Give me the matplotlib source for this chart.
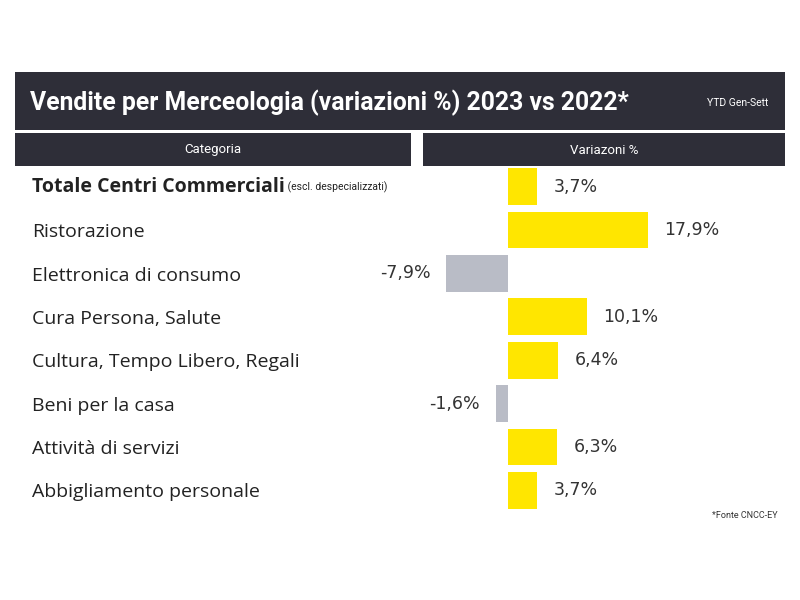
import matplotlib.pyplot as plt
from matplotlib.patches import Rectangle
import matplotlib.transforms as mtransforms

plt.rcParams['font.family'] = ['Roboto', 'DejaVu Sans']

categories = ['Totale Centri Commerciali', 'Ristorazione', 'Elettronica di consumo',
              'Cura Persona, Salute', 'Cultura, Tempo Libero, Regali',
              'Beni per la casa', 'Attività di servizi', 'Abbigliamento personale']
values = [3.7, 17.9, -7.9, 10.1, 6.4, -1.6, 6.3, 3.7]
value_labels = ['3,7%', '17,9%', '-7,9%', '10,1%', '6,4%', '-1,6%', '6,3%', '3,7%']

dark = '#2e2e38'
yellow = '#ffe600'
grey = '#b9bcc6'

W, H = 800, 600
fig = plt.figure(figsize=(8, 6), dpi=100)
fig.patch.set_facecolor('white')

def px_rect(x0, y0, x1, y1):
    # pixel box (top-left origin) -> figure fraction rectangle
    return Rectangle((x0 / W, 1 - y1 / H), (x1 - x0) / W, (y1 - y0) / H,
                     transform=fig.transFigure, facecolor=dark, edgecolor='none')

fig.patches.append(px_rect(15, 72, 785, 130))
fig.patches.append(px_rect(15, 133, 411, 166))
fig.patches.append(px_rect(423, 133, 785, 166))

fig.text(30 / W, 1 - 103 / H, 'Vendite per Merceologia (variazioni %) 2023 vs 2022*',
         color='white', fontsize=17.8, fontweight='bold', va='center', ha='left')
fig.text(768 / W, 1 - 103 / H, 'YTD Gen-Sett', color='white', fontsize=7.5,
         va='center', ha='right')
fig.text(213 / W, 1 - 150 / H, 'Categoria', color='white', fontsize=9.5,
         va='center', ha='center')
fig.text(604 / W, 1 - 150 / H, 'Variazoni %', color='white', fontsize=9.5,
         va='center', ha='center')
fig.text(778 / W, 1 - 516 / H, '*Fonte CNCC-EY', color='#333333', fontsize=6.5,
         va='center', ha='right')

# bar axes: zero at x=508px, about 7.8 px per percent point
scale = 7.8
ax = fig.add_axes([423 / W, 1 - 512 / H, 362 / W, (512 - 165) / H])
ax.set_xlim(-(508 - 423) / scale, (785 - 508) / scale)
ax.set_ylim(len(values) - 0.5, -0.5)
ax.axis('off')

ypos = list(range(len(values)))
colors = [yellow if v > 0 else grey for v in values]
ax.barh(ypos, values, height=0.85, color=colors)

for y, v, lab in zip(ypos, values, value_labels):
    if v > 0:
        ax.annotate(lab, (v, y), xytext=(12, 0), textcoords='offset points',
                    ha='left', va='center', fontsize=12.5, color='#333333',
                    family='DejaVu Sans')
    else:
        ax.annotate(lab, (v, y), xytext=(-11, 0), textcoords='offset points',
                    ha='right', va='center', fontsize=12.5, color='#333333',
                    family='DejaVu Sans')

trans = mtransforms.blended_transform_factory(fig.transFigure, ax.transData)
for y, cat in zip(ypos, categories):
    if y == 0:
        t = ax.text(32 / W, y, cat, transform=trans, fontsize=14, fontweight='bold',
                    color='#222222', va='center', ha='left', family='Open Sans')
        ax.annotate(' (escl. despecializzati)', xycoords=t, xy=(1, 0.45),
                    va='center', ha='left', fontsize=7.5, color='#222222')
    else:
        ax.text(32 / W, y + 0.05, cat, transform=trans, fontsize=14,
                color='#222222', va='center', ha='left', family='Open Sans')

fig.savefig('out.png', dpi=100)
